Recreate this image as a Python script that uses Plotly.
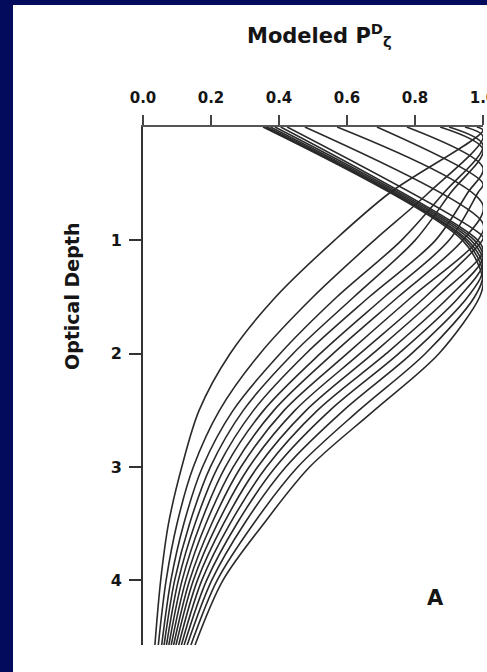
import plotly.graph_objects as go

# ---- data (P = Modeled P^D_zeta, depth = optical depth) ----
curve_ids = list(range(15))

start_P = [0.982, 0.947, 0.900, 0.874, 0.776, 0.688, 0.571, 0.476, 0.424,
           0.405, 0.388, 0.375, 0.365, 0.358, 0.353]
peak_depth = [0.03, 0.085, 0.16, 0.20, 0.36, 0.50, 0.69, 0.85, 0.97,
              1.10, 1.15, 1.20, 1.25, 1.30, 1.35]
peak_P = [1.0, 1.0, 1.0, 1.0, 1.0, 1.0, 1.0, 1.0, 1.0,
          1.0, 1.0, 1.0, 1.0, 1.0, 1.0]

depth_levels = [0.58, 1.0, 1.5, 2.0, 2.5, 3.0, 3.5, 4.0, 4.57]
P_d058 = [0.726, 0.84, 0.885, 0.905, 0.955, 0.985, None, None, None,
          None, None, None, None, None, None]
P_d100 = [0.563, 0.68, 0.76, 0.80, 0.86, 0.90, 0.94, 0.985, 0.998,
          0.985, 0.975, 0.965, 0.955, 0.948, 0.94]
P_d150 = [0.39, 0.50, 0.57, 0.62, 0.665, 0.71, 0.75, 0.79, 0.83,
          0.865, 0.90, 0.93, 0.955, 0.975, 0.99]
P_d200 = [0.256, 0.344, 0.403, 0.441, 0.479, 0.521, 0.559, 0.600, 0.638,
          0.676, 0.715, 0.752, 0.790, 0.830, 0.870]
P_d250 = [0.165, 0.225, 0.265, 0.295, 0.325, 0.355, 0.385, 0.415, 0.447,
          0.480, 0.513, 0.550, 0.590, 0.635, 0.680]
P_d300 = [0.114, 0.148, 0.175, 0.198, 0.220, 0.242, 0.265, 0.288, 0.312,
          0.337, 0.363, 0.390, 0.420, 0.455, 0.490]
P_d350 = [0.075, 0.100, 0.120, 0.137, 0.153, 0.169, 0.185, 0.202, 0.219,
          0.237, 0.256, 0.276, 0.298, 0.325, 0.355]
P_d400 = [0.052, 0.068, 0.082, 0.093, 0.104, 0.115, 0.126, 0.137, 0.148,
          0.160, 0.173, 0.187, 0.202, 0.218, 0.235]
P_d457 = [0.035, 0.045, 0.055, 0.062, 0.069, 0.076, 0.083, 0.090, 0.097,
          0.105, 0.113, 0.121, 0.130, 0.141, 0.153]

x_tick_vals = [0.0, 0.2, 0.4, 0.6, 0.8, 1.0]
x_tick_text = ["0.0", "0.2", "0.4", "0.6", "0.8", "1.0"]
y_tick_vals = [1, 2, 3, 4]
y_tick_text = ["1", "2", "3", "4"]

rows = [P_d058, P_d100, P_d150, P_d200, P_d250, P_d300, P_d350, P_d400, P_d457]

# ---- layout geometry (pixels) ----
W, H = 487, 672
ML, MR, MT, MB = 143, 4, 127, 27
PW, PH = W - ML - MR, H - MT - MB


def px(xp):
    return (xp - ML) / PW


def py(yp):
    return (H - MB - yp) / PH


fig = go.Figure()
for i in curve_ids:
    pts = [(0.0, start_P[i]), (peak_depth[i], peak_P[i])]
    for d, row in zip(depth_levels, rows):
        if row[i] is not None:
            pts.append((d, row[i]))
    pts.sort(key=lambda t: t[0])
    fig.add_trace(go.Scatter(
        x=[p for _, p in pts], y=[d for d, _ in pts],
        mode="lines",
        line=dict(color="#2a2a2a", width=1.6, shape="spline", smoothing=0.9),
        hoverinfo="skip", showlegend=False))

bold = dict(family="DejaVu Sans", weight="bold", color="#151515")

fig.update_layout(
    width=W, height=H,
    margin=dict(l=ML, r=MR, t=MT, b=MB, pad=0, autoexpand=False),
    paper_bgcolor="#020b5c",
    plot_bgcolor="white",
    showlegend=False,
    shapes=[dict(type="rect", xref="paper", yref="paper",
                 x0=px(13), x1=px(W + 5), y0=py(H + 5), y1=py(5),
                 fillcolor="white", line=dict(width=0), layer="below")],
    xaxis=dict(range=[0, 1.0], side="top", tickvals=x_tick_vals, ticktext=x_tick_text,
               ticks="outside", ticklen=10, tickwidth=2, tickcolor="#444",
               showline=True, linecolor="#555", linewidth=2,
               showgrid=False, zeroline=False, ticklabelstandoff=6,
               ticklabeloverflow="allow", automargin=False,
               tickfont=dict(size=15, **bold)),
    yaxis=dict(range=[4.57, 0], tickvals=y_tick_vals, ticktext=y_tick_text,
               ticks="outside", ticklen=12, tickwidth=2, tickcolor="#333",
               showline=True, linecolor="#333", linewidth=2,
               showgrid=False, zeroline=False, ticklabelstandoff=4,
               automargin=False,
               tickfont=dict(size=16, **bold)),
    annotations=[
        dict(text="Modeled P<sup>D</sup><sub>ζ</sub>", xref="paper", yref="paper",
             x=px(245), y=py(35), xanchor="left", yanchor="middle", showarrow=False,
             font=dict(size=21, **bold)),
        dict(text="Optical Depth", xref="paper", yref="paper",
             x=px(72), y=py(297), xanchor="center", yanchor="middle", textangle=-90,
             showarrow=False, font=dict(size=19, **bold)),
        dict(text="A", xref="paper", yref="paper",
             x=px(435), y=py(598), xanchor="center", yanchor="middle",
             showarrow=False, font=dict(size=21, **bold)),
    ],
)

fig.write_html("out.html")
